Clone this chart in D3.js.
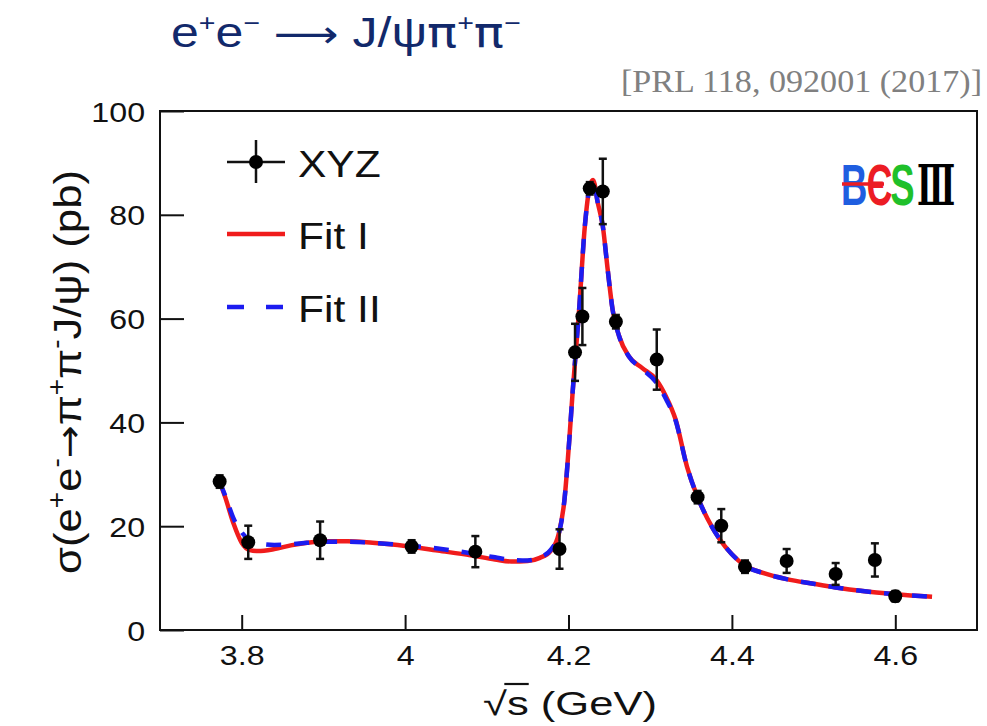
<!DOCTYPE html>
<html>
<head>
<meta charset="utf-8">
<script src="https://cdn.jsdelivr.net/npm/d3@7"></script>
<style>
  body { margin: 0; background: #fff; }
  svg { display: block; font-family: Arial, "Liberation Sans", Helvetica, sans-serif; }
</style>
</head>
<body>
<div id="chart"></div>
<script>
var width = 987, height = 726;

// measured points (sqrt(s) in GeV, cross section in pb)
var energy = [3.773, 3.808, 3.896, 4.008, 4.086, 4.189, 4.208, 4.217, 4.226, 4.242,
              4.258, 4.308, 4.358, 4.387, 4.416, 4.467, 4.527, 4.575, 4.600];
var xsec = [28.6, 16.9, 17.3, 16.1, 15.1, 15.6, 53.5, 60.4, 85.1, 84.5,
            59.4, 52.1, 25.6, 20.1, 12.2, 13.3, 10.8, 13.5, 6.5];
var xsecErr = [1.2, 3.2, 3.6, 1.2, 3.0, 3.8, 5.5, 5.5, 1.2, 6.3,
               1.3, 5.8, 1.2, 3.2, 1.2, 2.3, 2.1, 3.2, 1.0];

// fit curves
var fitE = [3.773, 3.780, 3.790, 3.800, 3.810, 3.820, 3.840, 3.860, 3.880, 3.900,
            3.930, 3.960, 4.000, 4.040, 4.080, 4.110, 4.130, 4.150, 4.165, 4.178,
            4.188, 4.195, 4.201, 4.205, 4.213, 4.220, 4.226, 4.230, 4.236, 4.242,
            4.248, 4.254, 4.262, 4.274, 4.290, 4.307, 4.319, 4.331, 4.345, 4.358,
            4.370, 4.385, 4.400, 4.416, 4.440, 4.467, 4.500, 4.527, 4.560, 4.600, 4.645];
var fit1 = [28.6, 25.5, 20.5, 16.8, 15.4, 15.2, 15.6, 16.3, 16.8, 17.1,
            17.1, 16.8, 16.2, 15.3, 14.4, 13.6, 13.2, 13.3, 13.9, 15.2,
            18.5, 25.0, 36.7, 45.7, 61.7, 77.8, 85.4, 86.7, 82.2, 77.8,
            69.4, 61.7, 56.6, 52.7, 50.5, 48.3, 45.1, 40.6, 31.5, 25.6,
            21.5, 17.5, 14.6, 12.4, 10.9, 9.8, 8.9, 8.2, 7.5, 6.9, 6.4];
var fit2 = [28.6, 25.8, 21.5, 18.8, 17.3, 16.7, 16.4, 16.5, 16.8, 17.0,
            17.0, 16.8, 16.3, 15.7, 14.8, 14.0, 13.5, 13.4, 14.0, 15.4,
            18.5, 25.0, 36.7, 45.7, 61.7, 77.8, 85.4, 86.7, 82.2, 77.8,
            69.4, 61.7, 56.6, 52.7, 50.3, 47.8, 44.6, 40.4, 31.5, 25.6,
            21.5, 17.5, 14.6, 12.4, 10.9, 9.8, 8.9, 8.2, 7.5, 6.9, 6.4];

var legendLabels = ["XYZ", "Fit I", "Fit II"];

var sx = 1.15; // the picture's text is a bit wider than Arial
var arrowFont = "'DejaVu Sans', sans-serif";

var svg = d3.select("#chart").append("svg")
    .attr("width", width)
    .attr("height", height);

var x = d3.scaleLinear().domain([3.7, 4.7]).range([160, 977]);
var y = d3.scaleLinear().domain([0, 100]).range([630, 111]);

// title + reference
var title = svg.append("text")
    .attr("transform", "translate(171,47) scale(1.19,1)")
    .style("font-size", "42px")
    .style("fill", "#12296b");
title.append("tspan").text("e");
title.append("tspan").text("+").style("font-size", "24px").attr("dy", -16);
title.append("tspan").text("e").attr("dy", 16);
title.append("tspan").text("\u2212").style("font-size", "24px").attr("dy", -16);
title.append("tspan").text(" ").attr("dy", 16);
title.append("tspan").text("\u27F6").style("font-family", arrowFont).style("font-size", "38px");
title.append("tspan").text(" J/\u03C8");
title.append("tspan").text("\u03C0").style("font-family", arrowFont);
title.append("tspan").text("+").style("font-size", "24px").attr("dy", -16);
title.append("tspan").text("\u03C0").style("font-family", arrowFont).attr("dy", 16);
title.append("tspan").text("\u2212").style("font-size", "24px").attr("dy", -16);

svg.append("text")
    .attr("transform", "translate(982,92) scale(1.1,1)")
    .attr("text-anchor", "end")
    .style("font-family", "'Liberation Serif', 'Times New Roman', serif")
    .style("font-size", "31px")
    .style("fill", "#808080")
    .text("[PRL 118, 092001 (2017)]");

// axes, ticks inward like ROOT
var gx = svg.append("g").attr("transform", "translate(0," + y(0) + ")");
gx.call(d3.axisBottom(x).tickValues(x.ticks(20)).tickSize(-7.5).tickFormat("").tickSizeOuter(0));
gx.call(d3.axisBottom(x).tickValues(x.ticks(5)).tickSize(-15).tickPadding(15).tickSizeOuter(0)
    .tickFormat(function(d){ return d3.format("")(+d.toFixed(1)); }));

var gy = svg.append("g").attr("transform", "translate(" + x(3.7) + ",0)");
gy.call(d3.axisLeft(y).tickValues(y.ticks(20)).tickSize(-12).tickFormat("").tickSizeOuter(0));
gy.call(d3.axisLeft(y).ticks(5).tickSize(-24).tickPadding(13).tickSizeOuter(0));

svg.selectAll(".tick line").attr("stroke", "#111").attr("stroke-width", 2);
svg.selectAll(".domain").remove();
svg.selectAll(".tick text")
    .style("font-size", "28px")
    .style("font-family", "Arial, 'Liberation Sans', sans-serif")
    .attr("fill", "#111")
    .attr("transform", "scale(" + sx + ",1)");
gy.selectAll(".tick text").attr("dy", "0.36em");

// frame
svg.append("rect")
    .attr("x", x(3.7)).attr("y", y(100))
    .attr("width", x(4.7) - x(3.7)).attr("height", y(0) - y(100))
    .attr("fill", "none").attr("stroke", "#111").attr("stroke-width", 2);

// axis titles
var xg = svg.append("g").attr("transform", "translate(570,715) scale(1.32,1)");
var xt = xg.append("text")
    .attr("text-anchor", "middle")
    .style("font-size", "33px")
    .style("fill", "#111");
xt.append("tspan").text("\u221A");
xt.append("tspan").text("s (GeV)");
// bar of the root sign over the s
var sBox = xt.node().getExtentOfChar(1);
var rBox = xt.node().getExtentOfChar(0);
xg.append("line")
    .attr("x1", rBox.x + rBox.width - 2).attr("x2", sBox.x + sBox.width)
    .attr("y1", -31).attr("y2", -31)
    .attr("stroke", "#111").attr("stroke-width", 2.2);

var yt = svg.append("text")
    .attr("transform", "translate(81,372) rotate(-90) scale(1.12,1)")
    .attr("text-anchor", "middle")
    .style("font-size", "39px")
    .style("fill", "#111");
yt.append("tspan").text("\u03C3(e");
yt.append("tspan").text("+").style("font-size", "25px").attr("dy", -16);
yt.append("tspan").text("e").attr("dy", 16);
yt.append("tspan").text("-").style("font-size", "25px").attr("dy", -16);
yt.append("tspan").text("\u2192").style("font-family", arrowFont).style("font-size", "35px").attr("dy", 16);
yt.append("tspan").text("\u03C0");
yt.append("tspan").text("+").style("font-size", "25px").attr("dy", -16);
yt.append("tspan").text("\u03C0").attr("dy", 16);
yt.append("tspan").text("-").style("font-size", "25px").attr("dy", -16);
yt.append("tspan").text("J/\u03C8) (pb)").attr("dy", 16);

// fit curves
var line1 = d3.line()
    .x(function(d, i){ return x(fitE[i]); })
    .y(function(d){ return y(d); })
    .curve(d3.curveMonotoneX);

svg.append("path")
    .datum(fit1)
    .attr("d", line1)
    .attr("fill", "none")
    .attr("stroke", "#f01c1c")
    .attr("stroke-width", 4.5);

svg.append("path")
    .datum(fit2)
    .attr("d", line1)
    .attr("fill", "none")
    .attr("stroke", "#1c1cf0")
    .attr("stroke-width", 4.5)
    .attr("stroke-dasharray", "15,13");

// data points with error bars
var pts = svg.append("g").selectAll("g")
    .data(energy)
  .enter().append("g");

pts.append("line")
    .attr("x1", function(d){ return x(d); })
    .attr("x2", function(d){ return x(d); })
    .attr("y1", function(d, i){ return y(xsec[i] + xsecErr[i]); })
    .attr("y2", function(d, i){ return y(xsec[i] - xsecErr[i]); })
    .attr("stroke", "#111").attr("stroke-width", 2.5);

[1, -1].forEach(function(s){
  pts.append("line")
      .attr("x1", function(d){ return x(d) - 4; })
      .attr("x2", function(d){ return x(d) + 4; })
      .attr("y1", function(d, i){ return y(xsec[i] + s * xsecErr[i]); })
      .attr("y2", function(d, i){ return y(xsec[i] + s * xsecErr[i]); })
      .attr("stroke", "#111").attr("stroke-width", 2.5);
});

pts.append("circle")
    .attr("cx", function(d){ return x(d); })
    .attr("cy", function(d, i){ return y(xsec[i]); })
    .attr("r", 7)
    .attr("fill", "#000");

// legend
var lg = svg.append("g");
lg.append("line").attr("x1", 227).attr("x2", 285).attr("y1", 162).attr("y2", 162)
    .attr("stroke", "#111").attr("stroke-width", 2.5);
lg.append("line").attr("x1", 256).attr("x2", 256).attr("y1", 140).attr("y2", 183)
    .attr("stroke", "#111").attr("stroke-width", 2.5);
lg.append("circle").attr("cx", 256).attr("cy", 162).attr("r", 7).attr("fill", "#000");
lg.append("line").attr("x1", 227).attr("x2", 285).attr("y1", 234).attr("y2", 234)
    .attr("stroke", "#f01c1c").attr("stroke-width", 4.5);
lg.append("line").attr("x1", 227).attr("x2", 285).attr("y1", 307).attr("y2", 307)
    .attr("stroke", "#1c1cf0").attr("stroke-width", 4.5)
    .attr("stroke-dasharray", "17,22");

lg.selectAll(".lgtext")
    .data(legendLabels)
  .enter().append("text")
    .attr("class", "lgtext")
    .attr("transform", function(d, i){ return "translate(298," + [177, 249, 322][i] + ") scale(" + sx + ",1)"; })
    .style("font-size", "37px")
    .style("fill", "#111")
    .text(function(d){ return d; });

// BESIII logo
var logo = svg.append("g").attr("transform", "translate(841,205) scale(0.64,1)");
var logoLetters = ["B", "\u0404", "S"];
var logoColors = ["#1f5ee0", "#ec1c24", "#1fc02a"];
logo.selectAll("text")
    .data(logoLetters)
  .enter().append("text")
    .attr("x", function(d, i){ return [0, 40, 77][i]; })
    .style("font-size", "57px")
    .style("font-weight", "bold")
    .style("fill", function(d, i){ return logoColors[i]; })
    .text(function(d){ return d; });
svg.append("line").attr("x1", 842).attr("x2", 884).attr("y1", 184).attr("y2", 184)
    .attr("stroke", "#ec1c24").attr("stroke-width", 3.5);
svg.append("text")
    .attr("transform", "translate(917,205) scale(0.56,1)")
    .style("font-family", "'DejaVu Serif', serif")
    .style("font-weight", "bold")
    .style("font-size", "56px")
    .style("fill", "#000")
    .text("\u2162");
</script>
</body>
</html>
